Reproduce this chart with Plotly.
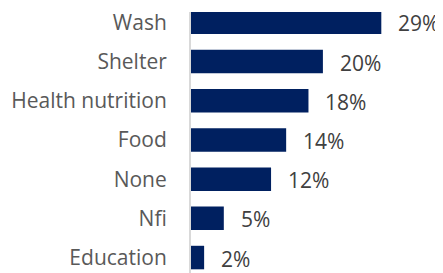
import plotly.graph_objects as go

categories = ["Wash", "Shelter", "Health nutrition", "Food", "None", "Nfi", "Education"]
values = [29.0, 20.1, 17.9, 14.5, 12.2, 5.0, 2.0]
labels = ["29%", "20%", "18%", "14%", "12%", "5%", "2%"]

fig = go.Figure(go.Bar(
    x=values,
    y=categories,
    orientation="h",
    marker=dict(color="#002060", line=dict(width=0)),
    width=0.6,
    cliponaxis=False,
))

for v, c, t in zip(values, categories, labels):
    fig.add_annotation(
        x=v, y=c, text=t, showarrow=False,
        xanchor="left", yanchor="middle", xshift=15, yshift=-1,
        font=dict(family="Open Sans", size=21, color="#404040"),
    )

fig.update_layout(
    width=435, height=265,
    margin=dict(l=183, r=0, t=0, b=0),
    paper_bgcolor="white", plot_bgcolor="white",
    showlegend=False,
    font=dict(family="Open Sans", size=21, color="#595959"),
    xaxis=dict(range=[0, 38.4], visible=False, showgrid=False, zeroline=False),
    yaxis=dict(
        categoryorder="array", categoryarray=categories,
        range=[6.394, -0.264],
        showgrid=False, zeroline=False,
        showline=True, linecolor="#d9d9d9", linewidth=2,
        ticks="", ticklabelstandoff=18,
        tickfont=dict(family="Open Sans", size=21, color="#595959"),
    ),
)

fig.write_html("out.html")
